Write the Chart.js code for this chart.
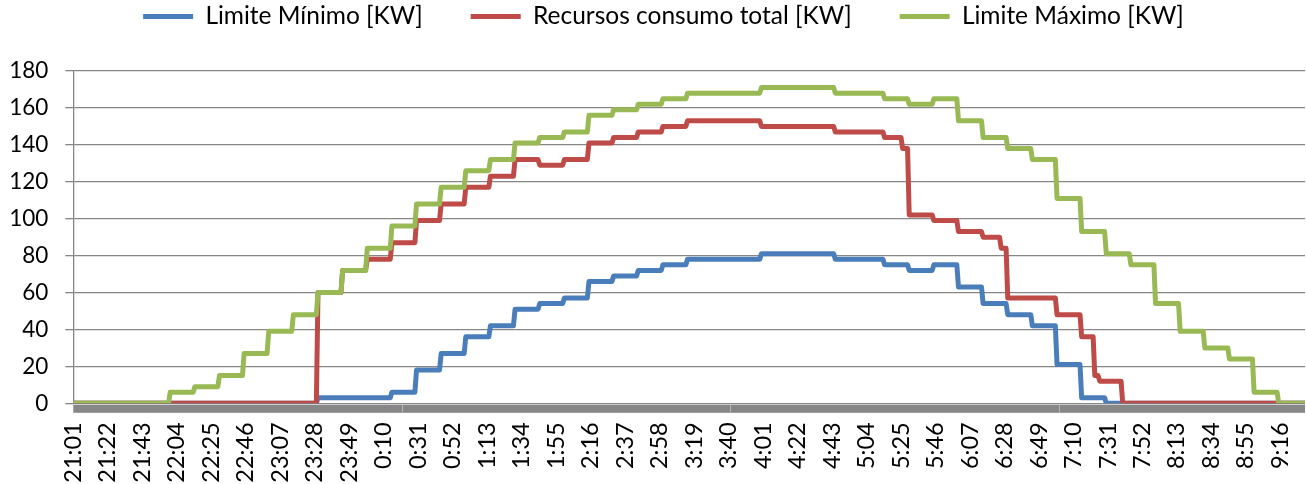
<!DOCTYPE html>
<html>
<head>
<meta charset="utf-8">
<script src="https://cdn.jsdelivr.net/npm/chart.js@4.4.1/dist/chart.umd.min.js"></script>
<style>
  html, body { margin: 0; padding: 0; background: #ffffff; }
  #wrap { width: 1306px; height: 484px; }
</style>
</head>
<body>
<div id="wrap"><canvas id="chart" width="1306" height="484"></canvas></div>
<script>
// Category labels along the time axis (every 21 minutes from 21:01)
const timeLabels = ['21:01','21:22','21:43','22:04','22:25','22:46','23:07','23:28','23:49','0:10',
  '0:31','0:52','1:13','1:34','1:55','2:16','2:37','2:58','3:19','3:40','4:01','4:22','4:43','5:04',
  '5:25','5:46','6:07','6:28','6:49','7:10','7:31','7:52','8:13','8:34','8:55','9:16'];
const lastTime = '9:31';

const seriesNames = ['Limite Mínimo [KW]', 'Recursos consumo total [KW]', 'Limite Máximo [KW]'];
const seriesColors = ['#4A7EBB', '#BE4B48', '#98B954'];

// Each series holds its level from the listed time until the next listed time
const minStart = ['21:01','23:30','0:15','0:30','0:45','1:00','1:15','1:30','1:45','2:00','2:15','2:30',
  '2:45','3:00','3:15','4:00','4:45','5:15','5:30','5:45','6:00','6:15','6:30','6:45','7:00','7:15','7:30'];
const minKW = [0, 3, 6, 18, 27, 36, 42, 51, 54, 57, 66, 69,
  72, 75, 78, 81, 78, 75, 72, 75, 63, 54, 48, 42, 21, 3, 0];

const totalStart = ['21:01','23:30','23:45','0:00','0:15','0:30','0:45','1:00','1:15','1:30','1:45','2:00',
  '2:15','2:30','2:45','3:00','3:15','4:00','4:45','5:15','5:26','5:30','5:45','6:00','6:15','6:26',
  '6:30','7:00','7:15','7:23','7:26','7:40'];
const totalKW = [0, 60, 72, 78, 87, 99, 108, 117, 123, 132, 129, 132,
  141, 144, 147, 150, 153, 150, 147, 144, 138, 102, 99, 93, 90, 84,
  57, 48, 36, 15, 12, 0];

const maxStart = ['21:01','22:00','22:15','22:30','22:45','23:00','23:15','23:30','23:45','0:00','0:15','0:30',
  '0:45','1:00','1:15','1:30','1:45','2:00','2:15','2:30','2:45','3:00','3:15','4:00','4:45','5:15','5:30',
  '5:45','6:00','6:15','6:30','6:45','7:00','7:15','7:30','7:45','8:00','8:15','8:30','8:45','9:00','9:15'];
const maxKW = [0, 6, 9, 15, 27, 39, 48, 60, 72, 84, 96, 108,
  117, 126, 132, 141, 144, 147, 156, 159, 162, 165, 168, 171, 168, 165, 162,
  165, 153, 144, 138, 132, 111, 93, 81, 75, 54, 39, 30, 24, 6, 0];

const yTickStep = 20;
const yMax = 180;

// minutes elapsed since the first sample (21:01); times before noon belong to the next day
function minutesFromStart(label) {
  const [h, m] = label.split(':').map(Number);
  let total = h * 60 + m - (21 * 60 + 1);
  if (h < 12) total += 24 * 60;
  return total;
}

const axisEnd = minutesFromStart(lastTime);

// one sample per minute holds the level, so every change is a one-minute ramp
function levelPoints(starts, values) {
  const pts = [];
  for (let i = 0; i < starts.length; i++) {
    const a = minutesFromStart(starts[i]);
    const b = i + 1 < starts.length ? minutesFromStart(starts[i + 1]) - 1 : axisEnd;
    pts.push({ x: a, y: values[i] });
    if (b > a) pts.push({ x: b, y: values[i] });
  }
  return pts;
}

const seriesData = [levelPoints(minStart, minKW), levelPoints(totalStart, totalKW), levelPoints(maxStart, maxKW)];
const drawOrder = [3, 2, 1];

const FONT = 'Lato';
const GRID = '#868686';

// legend geometry: gap between entries, vertical centre of the row, top of the plot
const legendGap = 48;
const legendRowMiddle = 16.5;
const plotTop = 71;
const legendFontSize = 24.5;
const layoutTop = legendRowMiddle - legendFontSize / 2 - legendGap;

// thick grey band under the zero line, with faint tick marks every 200 minutes
const axisBand = {
  id: 'axisBand',
  beforeDatasetsDraw(chart) {
    const { ctx, chartArea, scales } = chart;
    const y0 = scales.y.getPixelForValue(0);
    ctx.save();
    ctx.fillStyle = '#878787';
    ctx.fillRect(chartArea.left, y0 + 1.5, chartArea.right - chartArea.left, 8);
    ctx.strokeStyle = '#b4b4b4';
    ctx.lineWidth = 1;
    for (let m = 200; m < axisEnd; m += 200) {
      const px = Math.round(scales.x.getPixelForValue(m)) + 0.5;
      ctx.beginPath();
      ctx.moveTo(px, y0 + 1.5);
      ctx.lineTo(px, y0 + 9.5);
      ctx.stroke();
    }
    ctx.restore();
  }
};

// legend row: leave room below it and centre it over the plot
const legendBlock = {
  id: 'legendBlock',
  beforeInit(chart) {
    const legend = chart.legend;
    const fit = legend.fit;
    legend.fit = function () {
      fit.call(this);
      this.height = plotTop - layoutTop;
    };
  },
  afterLayout(chart) {
    chart.legend.left += 11;
    chart.legend.right += 11;
  }
};

new Chart(document.getElementById('chart'), {
  type: 'line',
  data: {
    datasets: seriesNames.map((name, i) => ({
      label: name,
      data: seriesData[i],
      borderColor: seriesColors[i],
      backgroundColor: seriesColors[i],
      borderWidth: 5,
      pointRadius: 0,
      pointHoverRadius: 0,
      tension: 0,
      borderJoinStyle: 'round',
      borderCapStyle: 'round',
      fill: false,
      order: drawOrder[i]
    }))
  },
  options: {
    responsive: false,
    animation: false,
    devicePixelRatio: 1,
    layout: { padding: { top: layoutTop, left: 0, right: 1, bottom: 0 } },
    plugins: {
      tooltip: { enabled: false },
      legend: {
        position: 'top',
        labels: {
          usePointStyle: true,
          pointStyle: 'line',
          pointStyleWidth: 50,
          padding: legendGap,
          color: '#000000',
          font: { family: FONT, size: legendFontSize },
          sort: (a, b) => a.datasetIndex - b.datasetIndex
        }
      }
    },
    scales: {
      x: {
        type: 'linear',
        min: 0,
        max: axisEnd,
        afterBuildTicks: (scale) => {
          scale.ticks = timeLabels.map(l => ({ value: minutesFromStart(l) }));
        },
        afterFit: (scale) => {
          scale.height = 80.7;
          scale.paddingLeft = 0;
          scale.paddingRight = 0;
        },
        ticks: {
          autoSkip: false,
          minRotation: 90,
          maxRotation: 90,
          padding: 11,
          color: '#000000',
          font: { family: FONT, size: 23.5 },
          callback: (v, i) => timeLabels[i]
        },
        grid: { display: false },
        border: { display: false }
      },
      y: {
        type: 'linear',
        min: 0,
        max: yMax,
        afterFit: (scale) => { scale.width = 73.3; },
        ticks: {
          stepSize: yTickStep,
          padding: 17,
          color: '#000000',
          font: { family: FONT, size: 22.5 }
        },
        grid: { color: GRID, lineWidth: 1.3, tickLength: 8, drawTicks: true },
        border: { display: true, color: GRID, width: 1.3 }
      }
    }
  },
  plugins: [axisBand, legendBlock]
});
</script>
</body>
</html>
